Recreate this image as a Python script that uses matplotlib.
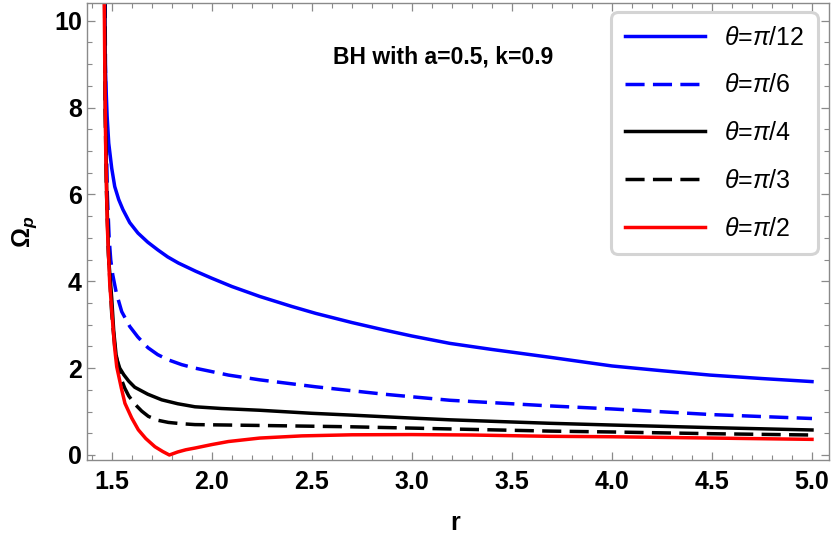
import numpy as np
import matplotlib
matplotlib.use("Agg")
from matplotlib import pyplot as plt
from matplotlib.ticker import MultipleLocator

plt.rcParams['font.family'] = ['Liberation Sans', 'DejaVu Sans']
plt.rcParams['mathtext.fontset'] = 'custom'
plt.rcParams['mathtext.rm'] = 'Liberation Sans'
plt.rcParams['mathtext.it'] = 'Liberation Sans:italic'
plt.rcParams['mathtext.bf'] = 'Liberation Sans:bold'
plt.rcParams['mathtext.bfit'] = 'Liberation Sans:italic:bold'

# values (r, Omega_p)
r_pi12 = [1.465, 1.467, 1.472, 1.477, 1.485, 1.5, 1.515, 1.535, 1.556, 1.59, 1.631, 1.68,
          1.731, 1.78, 1.833, 1.92, 2.0, 2.1, 2.24, 2.4, 2.52, 2.7, 2.86, 3.0, 3.19, 3.4,
          3.69, 4.0, 4.25, 4.49, 4.75, 5.0]
om_pi12 = [11.0, 9.1, 8.4, 7.8, 7.18, 6.6, 6.18, 5.88, 5.65, 5.35, 5.11, 4.9,
           4.72, 4.56, 4.42, 4.23, 4.07, 3.88, 3.65, 3.42, 3.26, 3.05, 2.88, 2.74, 2.57, 2.43,
           2.25, 2.05, 1.94, 1.84, 1.76, 1.69]

r_pi6 = [1.466, 1.47, 1.478, 1.487, 1.495, 1.505, 1.523, 1.55, 1.59, 1.63, 1.681, 1.73,
         1.783, 1.85, 1.916, 2.0, 2.083, 2.24, 2.52, 2.86, 3.19, 3.69, 4.0, 4.5, 5.0]
om_pi6 = [11.0, 8.0, 6.0, 5.0, 4.49, 4.15, 3.73, 3.3, 2.96, 2.72, 2.47, 2.31,
          2.19, 2.08, 2.0, 1.92, 1.84, 1.73, 1.57, 1.40, 1.26, 1.13, 1.06, 0.93, 0.84]

r_pi4 = [1.464, 1.468, 1.475, 1.485, 1.5, 1.51, 1.523, 1.54, 1.56, 1.585, 1.615, 1.68,
         1.75, 1.83, 1.916, 2.05, 2.24, 2.5, 2.69, 3.0, 3.19, 3.5, 3.69, 4.0, 4.5, 5.0]
om_pi4 = [11.0, 8.0, 6.0, 4.5, 3.6, 2.85, 2.25, 2.0, 1.85, 1.7, 1.56, 1.4,
          1.27, 1.18, 1.11, 1.07, 1.03, 0.96, 0.92, 0.85, 0.81, 0.76, 0.73, 0.69, 0.63, 0.576]

r_pi3 = [1.464, 1.467, 1.474, 1.484, 1.5, 1.515, 1.53, 1.55, 1.565, 1.585, 1.616, 1.65,
         1.683, 1.73, 1.783, 1.85, 1.916, 2.24, 2.69, 3.19, 3.69, 4.0, 4.5, 5.0]
om_pi3 = [11.0, 8.0, 6.0, 4.6, 3.25, 2.5, 2.1, 1.72, 1.54, 1.36, 1.17, 1.01,
          0.89, 0.8, 0.75, 0.72, 0.70, 0.68, 0.65, 0.60, 0.55, 0.53, 0.49, 0.46]

r_pi2 = [1.461, 1.465, 1.47, 1.478, 1.49, 1.506, 1.515, 1.525, 1.548, 1.566, 1.6, 1.633,
         1.67, 1.716, 1.755, 1.788, 1.83, 1.87, 1.916, 2.0, 2.083, 2.24, 2.45, 2.7, 3.0,
         3.3, 3.69, 4.0, 4.5, 5.0]
om_pi2 = [11.5, 9.1, 7.0, 5.26, 3.95, 2.96, 2.45, 2.03, 1.54, 1.19, 0.85, 0.58,
          0.38, 0.19, 0.08, 0.0, 0.07, 0.12, 0.16, 0.24, 0.31, 0.39, 0.44, 0.465, 0.47,
          0.46, 0.43, 0.42, 0.39, 0.36]

labels = [r'$\theta$=$\pi$/12', r'$\theta$=$\pi$/6', r'$\theta$=$\pi$/4',
          r'$\theta$=$\pi$/3', r'$\theta$=$\pi$/2']

fig = plt.figure(figsize=(8.34, 5.48), dpi=100)
ax = fig.add_axes([0.1047, 0.1606, 0.8893, 0.8334])

lw = 2.5
ax.plot(r_pi12, om_pi12, color='#0000ff', lw=lw, label=labels[0])
ax.plot(r_pi6, om_pi6, color='#0000ff', lw=lw, dashes=(5.5, 2.4), label=labels[1])
ax.plot(r_pi4, om_pi4, color='black', lw=lw, label=labels[2])
ax.plot(r_pi3, om_pi3, color='black', lw=lw, dashes=(5.5, 2.4), label=labels[3])
ax.plot(r_pi2, om_pi2, color='#ff0000', lw=lw, label=labels[4])

ax.set_xlim(1.378, 5.085)
ax.set_ylim(-0.115, 10.4)

ax.xaxis.set_major_locator(MultipleLocator(0.5))
ax.xaxis.set_minor_locator(MultipleLocator(0.1))
ax.yaxis.set_major_locator(MultipleLocator(2))
ax.yaxis.set_minor_locator(MultipleLocator(0.5))
ax.xaxis.set_major_formatter(plt.FormatStrFormatter('%.1f'))

for s in ax.spines.values():
    s.set_color('#8a8a8a')
    s.set_linewidth(1.0)
ax.tick_params(which='both', direction='in', top=True, right=True, color='#8a8a8a')
ax.tick_params(which='major', length=5.5, width=0.9)
ax.tick_params(which='minor', length=3.5, width=0.8)
ax.tick_params(axis='x', which='major', pad=7.5)
ax.tick_params(axis='y', which='major', pad=4)
for t in ax.get_xticklabels() + ax.get_yticklabels():
    t.set_fontsize(18)
    t.set_fontweight('bold')

ax.set_xlabel('r', fontsize=18, fontweight='bold')
ax.xaxis.set_label_coords(0.496, -0.112)
ax.set_ylabel(r'$\mathbf{\Omega}_{\mathbfit{p}}$', fontsize=18)
ax.yaxis.set_label_coords(-0.065, 0.5)

ax.text(0.48, 0.882, 'BH with a=0.5, k=0.9', transform=ax.transAxes,
        ha='center', va='center', fontsize=16.5, fontweight='bold')

leg = ax.legend(loc='upper right', bbox_to_anchor=(0.985, 0.981), borderaxespad=0,
                fontsize=18, handlelength=3.2, handletextpad=0.76, labelspacing=0.95,
                borderpad=0.55, fancybox=True, framealpha=1)
fr = leg.get_frame()
fr.set_edgecolor('#d4d4d4')
fr.set_linewidth(2.2)
fr.set_boxstyle('round', pad=0, rounding_size=0.3)

fig.savefig('out.png', dpi=100)
